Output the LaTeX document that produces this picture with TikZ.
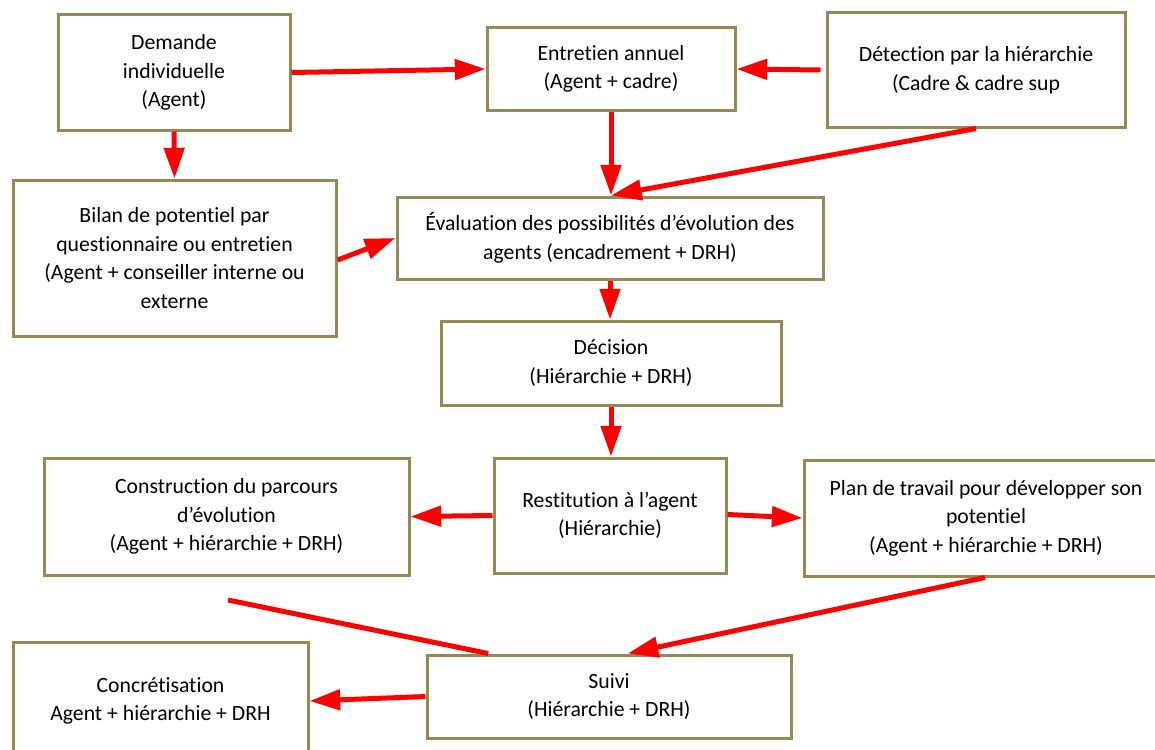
\documentclass[tikz,border=0pt]{standalone}
\usepackage{fontspec}
\setmainfont{Carlito}[Ligatures=NoCommon]
\usetikzlibrary{arrows.meta,positioning,calc}
\definecolor{olivebox}{HTML}{948A54}
\definecolor{redarrow}{HTML}{FF0000}
\tikzset{
      arr/.style = {-{Triangle[length=23pt, width=15pt]}, line width=3.75pt, draw=redarrow},   % <--- red arrows
     link/.style = {line width=3.75pt, draw=redarrow},
     base/.style = {draw=olivebox, line width=2.25pt, % <---
                    font=\fontsize{16.3pt}{21.4pt}\selectfont, align=center, inner sep=0pt},
  process/.style = {base, rectangle},
       sz/.style 2 args = {minimum width=#1*0.75pt, minimum height=#2*0.75pt},
        }

\begin{document}
\begin{tikzpicture}[x=0.75pt, y=-0.75pt]
\useasboundingbox (0,0) rectangle (1155,749);
% first row
\node[process, sz={232}{115}] (dem) at (174,72.5) {Demande\\individuelle\\(Agent)};
\node[process, sz={248}{82}]  (ent) at (611,69)   {Entretien annuel\\(Agent + cadre)};
\node[process, sz={298}{114}] (det) at (976,70)   {Détection par la hiérarchie\\(Cadre \& cadre sup};
% second row
\node[process, sz={323}{156}] (bil) at (174.5,258) {Bilan de potentiel par\\questionnaire ou entretien\\(Agent + conseiller interne ou\\externe};
\node[process, sz={426}{82}]  (eva) at (610,238)  {Évaluation des possibilités d’évolution des\\agents (encadrement + DRH)};
\node[process, sz={340}{84}]  (dec) at (611,363)  {Décision\\(Hiérarchie + DRH)};
% third row
\node[process, sz={365}{117}] (con) at (226.5,516.5) {Construction du parcours\\d’évolution\\(Agent + hiérarchie + DRH)};
\node[process, sz={232}{115}] (res) at (610,515.5) {Restitution à l’agent\\(Hiérarchie)};
\node[process, sz={364}{116}] (pla) at (986,518)   {Plan de travail pour développer son\\potentiel\\(Agent + hiérarchie + DRH)};
% last row
\node[process, sz={364}{83}]  (sui) at (609,696.5) {Suivi\\(Hiérarchie + DRH)};
\node[process, sz={295}{118}] (ccr) at (160.5,701) {Concrétisation\\Agent + hiérarchie + DRH};
\coordinate (loose) at (228,600);

\draw[arr] (dem.east) -- (ent.west);
\draw[arr] ([xshift=-3.75pt]det.west) -- (ent.east);
\draw[arr] (dem.south) -- (bil.north);
\draw[arr] (ent.south) -- (ent.south |- eva.north);
\draw[arr] (det.south) -- (ent.south |- eva.north);
\draw[arr] ([yshift=-1.5pt]bil.east) -- ([yshift=0pt]eva.west);
\draw[arr] (eva.south) -- (eva.south |- dec.north);
\draw[arr] (dec.south) -- (dec.south |- res.north);
\draw[arr] (res.west) -- (con.east);
\draw[arr] ([yshift=0.75pt]res.east) -- (pla.west);
\draw[arr] ([xshift=-0.75pt]pla.south) -- ([xshift=14pt]sui.north);
\draw[link] (loose) -- ([xshift=47pt]sui.north west);
\draw[arr] (sui.west) -- (ccr.east);
\end{tikzpicture}
\end{document}
